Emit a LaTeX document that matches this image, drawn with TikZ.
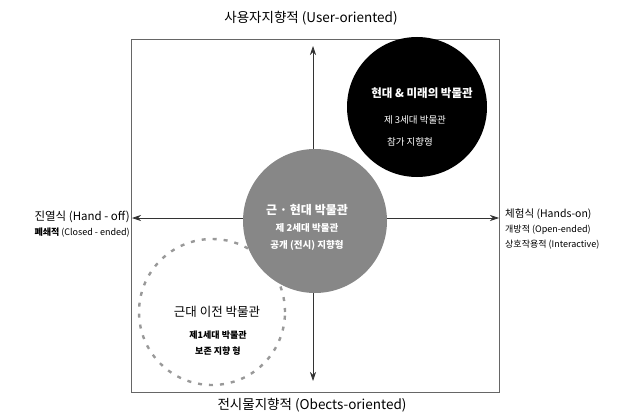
\documentclass[tikz,border=0pt]{standalone}
\usepackage{fontspec}
\setmainfont{Noto Sans CJK KR}
\newfontfamily\kr{Noto Sans CJK KR}
\usetikzlibrary{arrows.meta}
\tikzset{
  frame/.style={draw=black!60, line width=0.8pt},
  axis/.style={draw=black!80, line width=0.7pt, {Stealth[length=9pt,width=6pt]}-{Stealth[length=9pt,width=6pt]}},
  axislabel/.style={font=\kr\fontsize{13.5}{15}\selectfont, inner sep=0pt},
  sidelabel/.style={font=\kr\fontsize{9}{15}\selectfont, inner sep=0pt},
  title/.style={font=\kr\bfseries\fontsize{11.5}{13}\selectfont, inner sep=0pt},
  sub/.style={font=\kr\fontsize{9.5}{11}\selectfont, inner sep=0pt},
}
\begin{document}
\begin{tikzpicture}[x=1pt,y=-1pt]
\useasboundingbox (0,0) rectangle (635,420);
% frame
\node[frame, minimum width=368pt, minimum height=353pt, inner sep=0pt] (box) at (315,215.5) {};
% dashed circle
\node[circle, draw=black!40, line width=2.4pt, dash pattern=on 4pt off 7pt, minimum size=146pt, inner sep=0pt] (old) at (212,312) {};
% axes
\coordinate (top) at (313,46);
\coordinate (bot) at (313,381);
\coordinate (lft) at (132,218);
\coordinate (rgt) at (499,218);
\draw[axis] (top) -- (bot);
\draw[axis] (lft) -- (rgt);
% gray circle
\node[circle, fill=black!47, minimum size=144pt, inner sep=0pt] (mid) at (315,221) {};
% black circle
\node[circle, fill=black, minimum size=140pt, inner sep=0pt] (new) at (417,107) {};
% labels
\node[axislabel] (ltop) at (311,18) {사용자지향적 (User-oriented)};
\node[axislabel] (lbot) at (312,405) {전시물지향적 (Obects-oriented)};
\node[sidelabel, anchor=east, align=right] (lleft) at (130,224) {{\fontsize{11.5}{12}\selectfont 진열식 (Hand - off)}\\ {\bfseries 폐쇄적} (Closed - ended)};
\node[sidelabel, anchor=west, align=left] (lright) at (505,229) {{\fontsize{10.5}{12}\selectfont 체험식 (Hands-on)}\\ 개방적 (Open-ended)\\ 상호작용적 (Interactive)};
% circle texts
\node[title, text=white] (t3) at (422,93) {현대 \& 미래의 박물관};
\node[sub, text=white] (s3a) at (415,120) {제 3세대 박물관};
\node[sub, text=white] (s3b) at (410,142) {참가 지향형};
\node[title, text=white, font=\kr\bfseries\fontsize{12}{13}\selectfont] (t2) at (307,210) {근 · 현대 박물관};
\node[sub, text=white, font=\kr\bfseries\fontsize{9.5}{11}\selectfont] (s2a) at (307,228) {제 2세대 박물관};
\node[sub, text=white, font=\kr\bfseries\fontsize{9.5}{11}\selectfont] (s2b) at (307,245) {공개 (전시) 지향형};
\node[title, font=\kr\fontsize{12.5}{14}\selectfont] (t1) at (217,312) {근대 이전 박물관};
\node[sub, font=\kr\bfseries\fontsize{9}{11}\selectfont] (s1a) at (218,335) {제1세대 박물관};
\node[sub, font=\kr\bfseries\fontsize{9}{11}\selectfont] (s1b) at (218,351) {보존 지향 형};
\end{tikzpicture}
\end{document}
